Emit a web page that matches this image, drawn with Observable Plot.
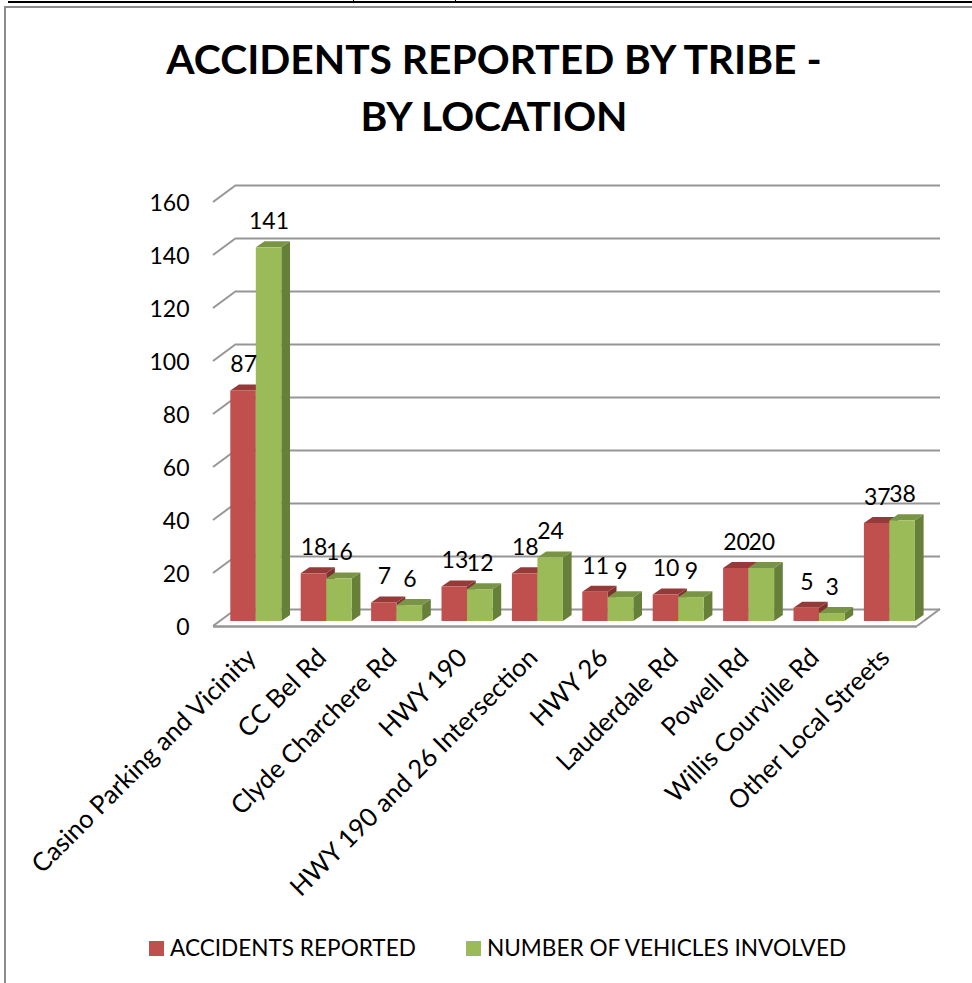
<!DOCTYPE html>
<html><head><meta charset="utf-8">
<script src="https://cdn.jsdelivr.net/npm/d3@7"></script>
<script src="https://cdn.jsdelivr.net/npm/@observablehq/plot@0.6"></script>
<style>
html,body{margin:0;padding:0;background:#fff;overflow:hidden}
body{width:972px;height:983px;position:relative;font-family:Lato,sans-serif;color:#000}
.rule{position:absolute}
#title{height:150px;box-sizing:border-box;padding-top:30px;padding-left:16px;text-align:center;font-weight:700;font-size:40.8px;line-height:57px}
#legend{position:absolute;top:933px;left:0;font-size:22.6px;line-height:30px}
#legend span{position:absolute;white-space:nowrap}
#legend i{position:absolute;width:15px;height:15px;top:8px}
</style></head><body>
<div class="rule" style="left:8px;right:0;top:1px;height:2px;background:#000"></div>
<div class="rule" style="left:353px;top:0;width:1px;height:2px;background:#000"></div>
<div class="rule" style="left:455px;top:0;width:1px;height:2px;background:#000"></div>
<div class="rule" style="left:4px;right:0;top:6px;height:2px;background:#8c8c8c"></div>
<div class="rule" style="left:4px;top:6px;bottom:0;width:2px;background:#8c8c8c"></div>
<div id="title">ACCIDENTS REPORTED BY TRIBE -<br>BY LOCATION</div>
<div id="chart"></div>
<div id="legend"></div>
<script>
const categories = ["Casino Parking and Vicinity","CC Bel Rd","Clyde Charchere Rd","HWY 190","HWY 190 and 26 Intersection","HWY 26","Lauderdale Rd","Powell Rd","Willis Courville Rd","Other Local Streets"];
const accidents = [87,18,7,13,18,11,10,20,5,37];
const vehicles = [141,16,6,12,24,9,9,20,3,38];
const seriesNames = ["ACCIDENTS REPORTED","NUMBER OF VEHICLES INVOLVED"];
const yTicks = [0,20,40,60,80,100,120,140,160];

const redRows = categories.map((c,i)=>({c,v:accidents[i]}));
const greenRows = categories.map((c,i)=>({c,v:vehicles[i]}));
const red = {front:"#C0504D",top:"#943B39",side:"#7e3230",insetLeft:17.3,insetRight:27.6,labelDx:-5};
const green = {front:"#9BBB59",top:"#7A9446",side:"#66803A",insetLeft:42.8,insetRight:2.1,labelDx:20.3};
const wall = {dx:23,dy:-17}, bar = {dx:0,dy:-5}, prism = {dx:8.7,dy:-6};
const gridColor = "#969696";

// parallelogram faces of a bar, placed through the chart's scales
function faces(rows,st){
  return (index,{x,y})=>{
    const g = d3.create("svg:g");
    for(const r of rows){
      const xl = x(r.c)+st.insetLeft, xr = x(r.c)+x.bandwidth()-st.insetRight;
      const yt = y(r.v)+bar.dy, yb = y(0)+bar.dy;
      g.append("polygon").attr("fill",st.side)
       .attr("points",[[xr,yt],[xr+prism.dx,yt+prism.dy],[xr+prism.dx,yb+prism.dy],[xr,yb]].join(" "));
      g.append("polygon").attr("fill",st.top)
       .attr("points",[[xl,yt],[xl+prism.dx,yt+prism.dy],[xr+prism.dx,yt+prism.dy],[xr,yt]].join(" "));
    }
    return g.node();
  };
}
// slanted wall and floor edges
function walls(index,{y},c,{width,marginLeft,marginRight}){
  const g = d3.create("svg:g").attr("stroke",gridColor).attr("stroke-width",2).attr("fill","none");
  for(const t of yTicks)
    g.append("line").attr("x1",marginLeft).attr("y1",y(t)).attr("x2",marginLeft+wall.dx).attr("y2",y(t)+wall.dy);
  const xr = width-marginRight;
  g.append("line").attr("x1",xr).attr("y1",y(0)).attr("x2",xr+wall.dx).attr("y2",y(0)+wall.dy);
  return g.node();
}
function barMarks(rows,st){
  return [
    faces(rows,st),
    Plot.barY(rows,{x:"c",y:"v",fill:st.front,insetLeft:st.insetLeft,insetRight:st.insetRight,dy:bar.dy})
  ];
}
function labels(rows,st){
  return Plot.text(rows,{x:"c",y:"v",text:d=>String(d.v),dx:st.labelDx,dy:-31,fontSize:23,fill:"#000",lineAnchor:"middle"});
}

const chart = Plot.plot({
  width:972,height:780,marginLeft:213,marginRight:55,marginTop:52,marginBottom:304,
  style:{background:"none",fontFamily:"Lato, sans-serif",overflow:"visible"},
  x:{domain:categories,padding:0,round:false},
  y:{domain:[0,160],ticks:yTicks},
  marks:[
    Plot.ruleY(yTicks,{dx:wall.dx,dy:wall.dy,stroke:gridColor,strokeWidth:2}),
    walls,
    Plot.ruleY([0],{stroke:gridColor,strokeWidth:2.5}),
    Plot.axisY({ticks:yTicks,tickSize:0,tickPadding:24,dy:1.5,fontSize:23,label:null,color:"#000"}),
    Plot.axisX({tickSize:0,tickRotate:-45,tickPadding:2,dx:3,dy:25,fontSize:25.6,label:null,color:"#000"}),
    ...barMarks(redRows,red),
    ...barMarks(greenRows,green),
    labels(redRows,red),
    labels(greenRows,green)
  ]
});
document.getElementById("chart").append(chart);

const lg = d3.select("#legend");
[[149,170,red.front],[466,487,green.front]].forEach(([sx,tx,col],i)=>{
  lg.append("i").style("left",sx+"px").style("background",col);
  lg.append("span").style("left",tx+"px").text(seriesNames[i]);
});
</script>
</body></html>
